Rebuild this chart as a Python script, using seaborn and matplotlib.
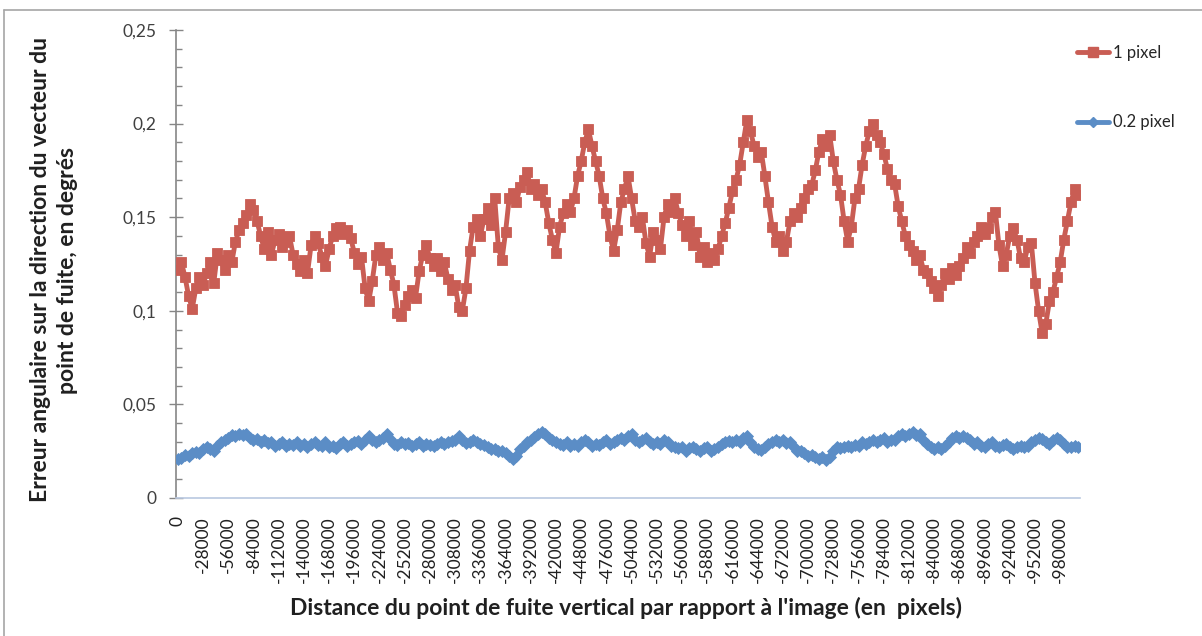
import numpy as np
import pandas as pd
import matplotlib
matplotlib.use("Agg")
import matplotlib.pyplot as plt
import seaborn as sns
from matplotlib.lines import Line2D

# Vertical vanishing point distance (pixels), one category every 4000 px
distance_px = [-4000 * k for k in range(251)]

# Angular error (degrees) for a 1 pixel measurement noise
err_1px = [
    0.122, 0.126, 0.118, 0.108, 0.101, 0.112, 0.118, 0.114, 0.120, 0.126,
    0.115, 0.131, 0.127, 0.122, 0.130, 0.126, 0.137, 0.143, 0.147, 0.151,
    0.157, 0.154, 0.148, 0.140, 0.133, 0.142, 0.130, 0.138, 0.141, 0.134,
    0.137, 0.140, 0.130, 0.125, 0.121, 0.127, 0.120, 0.135, 0.140, 0.136,
    0.129, 0.124, 0.133, 0.140, 0.144, 0.145, 0.141, 0.143, 0.139, 0.131,
    0.125, 0.129, 0.112, 0.105, 0.116, 0.130, 0.134, 0.127, 0.131, 0.122,
    0.114, 0.099, 0.097, 0.103, 0.108, 0.111, 0.107, 0.121, 0.130, 0.135,
    0.128, 0.124, 0.128, 0.121, 0.126, 0.117, 0.111, 0.114, 0.102, 0.100,
    0.112, 0.132, 0.145, 0.149, 0.140, 0.149, 0.155, 0.146, 0.160, 0.134,
    0.127, 0.142, 0.160, 0.163, 0.158, 0.166, 0.170, 0.174, 0.165, 0.168,
    0.162, 0.165, 0.158, 0.147, 0.138, 0.131, 0.145, 0.152, 0.157, 0.153,
    0.160, 0.172, 0.180, 0.190, 0.197, 0.188, 0.180, 0.172, 0.160, 0.152,
    0.140, 0.132, 0.143, 0.158, 0.165, 0.172, 0.160, 0.148, 0.145, 0.150,
    0.136, 0.129, 0.142, 0.138, 0.133, 0.150, 0.157, 0.153, 0.160, 0.152,
    0.146, 0.140, 0.148, 0.135, 0.142, 0.129, 0.134, 0.126, 0.131, 0.127,
    0.133, 0.140, 0.147, 0.155, 0.164, 0.170, 0.178, 0.190, 0.202, 0.196,
    0.188, 0.182, 0.185, 0.172, 0.158, 0.145, 0.137, 0.140, 0.132, 0.137,
    0.148, 0.152, 0.150, 0.155, 0.160, 0.165, 0.167, 0.175, 0.185, 0.192,
    0.188, 0.194, 0.180, 0.170, 0.162, 0.148, 0.137, 0.145, 0.160, 0.165,
    0.178, 0.188, 0.196, 0.200, 0.194, 0.190, 0.184, 0.176, 0.170, 0.168,
    0.156, 0.148, 0.140, 0.135, 0.132, 0.127, 0.130, 0.122, 0.120, 0.116,
    0.112, 0.108, 0.114, 0.120, 0.117, 0.123, 0.119, 0.124, 0.128, 0.134,
    0.131, 0.137, 0.140, 0.145, 0.141, 0.144, 0.150, 0.153, 0.135, 0.124,
    0.130, 0.140, 0.144, 0.138, 0.128, 0.126, 0.134, 0.136, 0.115, 0.100,
    0.088, 0.093, 0.105, 0.110, 0.118, 0.126, 0.138, 0.148, 0.158, 0.165,
    0.162,
]

# Angular error (degrees) for a 0.2 pixel measurement noise
err_02px = [
    0.0210, 0.0215, 0.0230, 0.0225, 0.0240, 0.0245, 0.0240, 0.0260, 0.0270, 0.0260,
    0.0250, 0.0280, 0.0300, 0.0310, 0.0320, 0.0335, 0.0330, 0.0340, 0.0335, 0.0340,
    0.0320, 0.0310, 0.0315, 0.0300, 0.0310, 0.0295, 0.0300, 0.0280, 0.0290, 0.0300,
    0.0280, 0.0290, 0.0285, 0.0300, 0.0280, 0.0290, 0.0270, 0.0290, 0.0300, 0.0285,
    0.0280, 0.0300, 0.0275, 0.0280, 0.0265, 0.0290, 0.0300, 0.0280, 0.0290, 0.0300,
    0.0305, 0.0290, 0.0310, 0.0330, 0.0310, 0.0300, 0.0310, 0.0320, 0.0340, 0.0315,
    0.0290, 0.0285, 0.0300, 0.0290, 0.0295, 0.0280, 0.0290, 0.0300, 0.0280, 0.0290,
    0.0285, 0.0280, 0.0290, 0.0300, 0.0290, 0.0300, 0.0305, 0.0310, 0.0330, 0.0310,
    0.0295, 0.0300, 0.0310, 0.0300, 0.0290, 0.0285, 0.0270, 0.0260, 0.0260, 0.0250,
    0.0250, 0.0240, 0.0225, 0.0210, 0.0225, 0.0260, 0.0280, 0.0300, 0.0310, 0.0325,
    0.0340, 0.0350, 0.0340, 0.0320, 0.0310, 0.0300, 0.0290, 0.0285, 0.0300, 0.0280,
    0.0290, 0.0280, 0.0300, 0.0310, 0.0300, 0.0280, 0.0290, 0.0285, 0.0300, 0.0310,
    0.0290, 0.0300, 0.0310, 0.0320, 0.0310, 0.0330, 0.0340, 0.0310, 0.0300, 0.0310,
    0.0320, 0.0300, 0.0290, 0.0300, 0.0290, 0.0310, 0.0300, 0.0280, 0.0270, 0.0265,
    0.0270, 0.0250, 0.0265, 0.0270, 0.0260, 0.0250, 0.0265, 0.0270, 0.0250, 0.0260,
    0.0270, 0.0290, 0.0300, 0.0305, 0.0300, 0.0310, 0.0300, 0.0320, 0.0330, 0.0300,
    0.0270, 0.0260, 0.0255, 0.0270, 0.0290, 0.0300, 0.0310, 0.0300, 0.0310, 0.0295,
    0.0300, 0.0270, 0.0250, 0.0250, 0.0240, 0.0225, 0.0230, 0.0220, 0.0210, 0.0220,
    0.0205, 0.0220, 0.0250, 0.0270, 0.0265, 0.0270, 0.0280, 0.0270, 0.0285, 0.0280,
    0.0300, 0.0290, 0.0300, 0.0310, 0.0300, 0.0310, 0.0320, 0.0300, 0.0310, 0.0310,
    0.0330, 0.0340, 0.0330, 0.0340, 0.0350, 0.0335, 0.0340, 0.0310, 0.0290, 0.0270,
    0.0260, 0.0270, 0.0260, 0.0280, 0.0300, 0.0320, 0.0330, 0.0320, 0.0330, 0.0320,
    0.0310, 0.0290, 0.0300, 0.0280, 0.0270, 0.0290, 0.0300, 0.0280, 0.0270, 0.0285,
    0.0290, 0.0270, 0.0260, 0.0275, 0.0280, 0.0270, 0.0280, 0.0300, 0.0310, 0.0320,
    0.0315, 0.0300, 0.0290, 0.0310, 0.0320, 0.0310, 0.0290, 0.0270, 0.0275, 0.0280,
    0.0270,
]

series_names = ["1 pixel", "0.2 pixel"]
series_colors = ["#C95D54", "#5B8DC6"]
y_ticks = [0, 0.05, 0.1, 0.15, 0.2, 0.25]
y_tick_labels = ["0", "0,05", "0,1", "0,15", "0,2", "0,25"]
label_step = 7  # one label every 28000 px

x_title = "Distance du point de fuite vertical par rapport à l'image (en  pixels)"
y_title = "Erreur angulaire sur la direction du vecteur du\npoint de fuite, en degrés"

sns.set_theme(style="white")
plt.rcParams["font.family"] = ["Lato", "DejaVu Sans"]

W, H = 1202, 636
fig = plt.figure(figsize=(W / 100, H / 100), dpi=100)
fig.patch.set_facecolor("white")

ax = fig.add_axes([176 / W, 1 - 498 / H, (1080 - 176) / W, (498 - 30) / H])

pos = np.arange(len(distance_px))
df = pd.DataFrame({
    "pos": np.concatenate([pos, pos]),
    "err": err_1px + err_02px,
    "serie": [series_names[0]] * len(pos) + [series_names[1]] * len(pos),
})

sns.lineplot(data=df[df["serie"] == series_names[0]], x="pos", y="err",
             color=series_colors[0], linewidth=3.5, marker="s", markersize=7.5,
             markeredgecolor=series_colors[0], markeredgewidth=0.6,
             legend=False, ax=ax, zorder=3)
sns.lineplot(data=df[df["serie"] == series_names[1]], x="pos", y="err",
             color=series_colors[1], linewidth=3.5, marker="D", markersize=6,
             markeredgecolor=series_colors[1], markeredgewidth=0.6,
             legend=False, ax=ax, zorder=3)

ax.set_xlim(-0.5, len(distance_px) - 0.5)
ax.set_ylim(0, 0.25)
ax.set_xlabel("")
ax.set_ylabel("")

# y axis: major ticks crossing the spine, minor ticks inside
ax.set_yticks(y_ticks)
ax.set_yticklabels(y_tick_labels)
ax.set_yticks(np.arange(0, 0.2501, 0.01), minor=True)
ax.tick_params(axis="y", which="major", direction="inout", length=10, width=1,
               color="#868686", labelsize=12.5, labelcolor="#404040", pad=9, left=True)
ax.tick_params(axis="y", which="minor", direction="in", length=4, width=1,
               color="#868686", left=True)

# x axis: rotated category labels
ax.set_xticks(pos[::label_step])
ax.set_xticklabels([str(d) for d in distance_px[::label_step]], rotation=90)
ax.tick_params(axis="x", which="both", length=0, labelsize=12.5,
               labelcolor="#202020", pad=13)

for side in ("top", "right"):
    ax.spines[side].set_visible(False)
ax.spines["left"].set_color("#868686")
ax.spines["left"].set_linewidth(1.2)
ax.spines["bottom"].set_color("#B9C8E0")
ax.spines["bottom"].set_linewidth(1.2)
ax.grid(False)

fig.text(626 / W, 1 - 608 / H, x_title, ha="center", va="center",
         fontsize=16.5, fontweight="bold", color="#202020")
fig.text(54 / W, 1 - 270 / H, y_title, ha="center", va="center", rotation=90,
         fontsize=16.5, fontweight="bold", color="#202020", linespacing=1.38,
         multialignment="center")

handles = [
    Line2D([], [], color=series_colors[0], lw=3.5, marker="s", markersize=7.5,
           markeredgecolor=series_colors[0]),
    Line2D([], [], color=series_colors[1], lw=3.5, marker="D", markersize=5.5,
           markeredgecolor=series_colors[1]),
]
fig.legend(handles, series_names, loc="upper left",
           bbox_to_anchor=(1077 / W, 1 - 45 / H), frameon=False,
           fontsize=12, labelspacing=3.2, handlelength=1.9,
           handletextpad=0.25, borderpad=0, borderaxespad=0)

# chart frame (top and left edges)
fig.add_artist(Line2D([4 / W, 1], [1 - 10 / H, 1 - 10 / H], transform=fig.transFigure,
                      color="#A6A6A6", lw=1.2))
fig.add_artist(Line2D([4 / W, 4 / W], [0, 1 - 10 / H], transform=fig.transFigure,
                      color="#A6A6A6", lw=1.2))

fig.savefig("out.png", dpi=100, facecolor="white")
